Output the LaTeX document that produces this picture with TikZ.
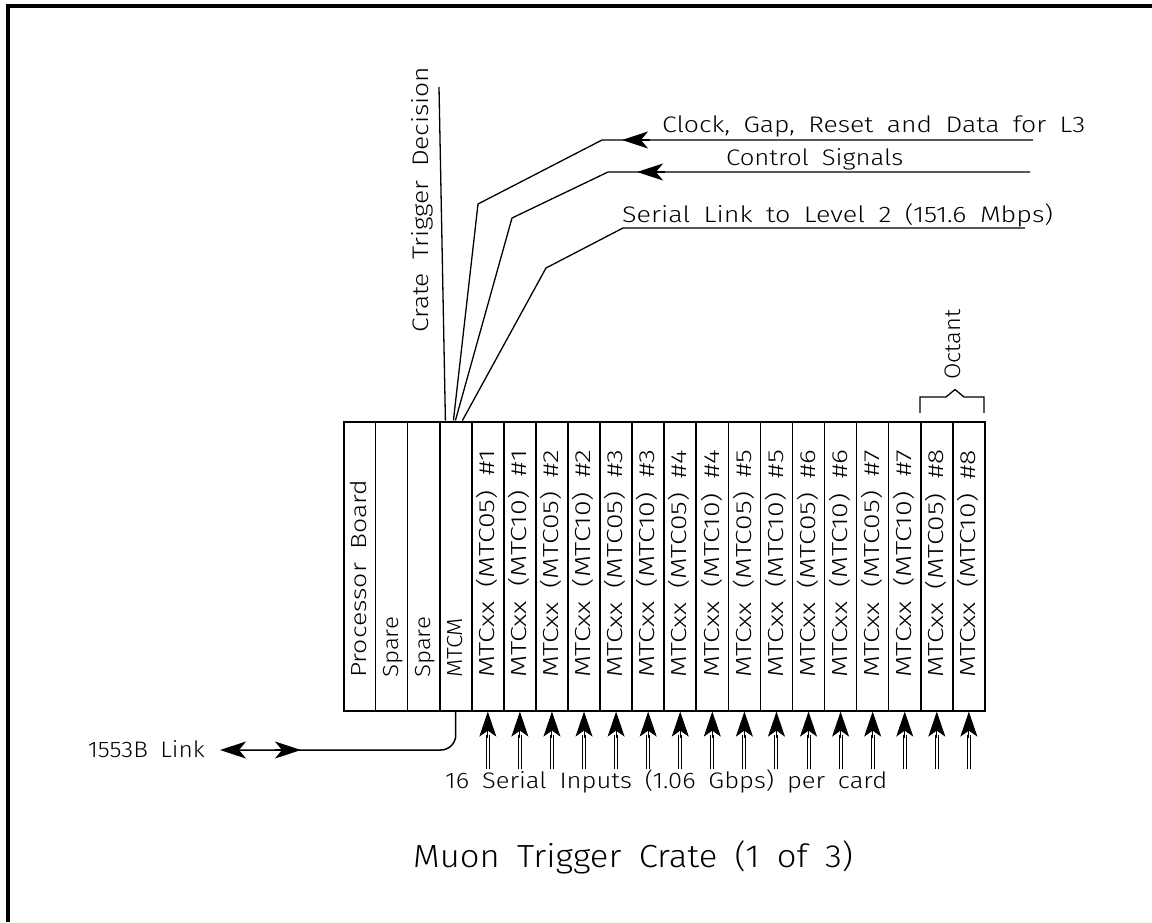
\documentclass[tikz,border=0pt]{standalone}
\usepackage{fontspec}
\setmainfont{Fira Sans Light}[WordSpace=1.8]
\usetikzlibrary{arrows.meta,calc}
\newlength\fitlen
\newcommand\fitw[2]{\settowidth{\fitlen}{#2}\pgfmathsetmacro\fitf{#1/\fitlen}\scalebox{\fitf}[1]{#2}}
\begin{document}
\begin{tikzpicture}[x=1pt,y=-1pt,
  wire/.style={line width=1.3pt},
  slotbox/.style={draw, line width=1.6pt, minimum width=32.07pt, minimum height=289.5pt, anchor=north west, inner sep=0pt},
  lbl/.style={font=\fontsize{22.5}{24}\selectfont, inner sep=0pt},
  biglbl/.style={font=\fontsize{32}{34}\selectfont, inner sep=0pt},
  slotlbl/.style={font=\fontsize{21.8}{23}\selectfont, rotate=90, anchor=base west, inner sep=0pt},
  tipL/.style={-{Stealth[length=26pt,width=17pt,inset=7pt]}},
  tipS/.style={-{Stealth[length=25pt,width=17pt,inset=6pt]}},
]
\useasboundingbox (0,0) rectangle (1152,922);
\draw[line width=4pt] (8,922) -- (8,6) -- (1152,6);

% slots
\foreach \i in {0,...,19}{
  \node (s\i) [slotbox] at ({342.7+\i*32.07},420.5) {};
}
\node (crate) [draw, line width=2pt, minimum width=641.4pt, minimum height=289.5pt, anchor=north west, inner sep=0pt] at (342.7,420.5) {};

% slot labels
\newcommand{\slotx}[1]{342.7+(#1+0.5)*32.07+7.5}
\node[slotlbl] (l0) at ({\slotx{0}},678) {\fitw{198}{Processor Board}};
\node[slotlbl] (l1) at ({\slotx{1}},678) {\fitw{61}{Spare}};
\node[slotlbl] (l2) at ({\slotx{2}},678) {\fitw{61}{Spare}};
\node[slotlbl] (l3) at ({\slotx{3}},678) {\fitw{60}{MTCM}};
\foreach \n in {1,...,8}{
  \pgfmathtruncatemacro{\a}{2*\n+2}
  \pgfmathtruncatemacro{\b}{2*\n+3}
  \node[slotlbl] (la\n) at ({\slotx{\a}},678) {\fitw{228}{MTCxx (MTC05) \#\n}};
  \node[slotlbl] (lb\n) at ({\slotx{\b}},678) {\fitw{228}{MTCxx (MTC10) \#\n}};
}

% crate trigger decision
\coordinate (ctdtop) at (439,87);
\draw[wire] ($(s3.north west)+(6.5,0)$) -- (ctdtop);
\node[lbl, rotate=90, anchor=base west] (ctd) at (428,333) {\fitw{266}{Crate Trigger Decision}};

% clock line
\coordinate (clkA) at (478,204);
\coordinate (clkB) at (602,140);
\coordinate (clkE) at (1033,140);
\draw[wire] ($(s3.north west)+(14.5,0)$) -- (clkA) -- (clkB) -- (clkE);
\draw[wire, tipL] (650,140) -- (622,140);
\node[lbl, anchor=base west] (clk) at (662,132) {\fitw{423}{Clock, Gap, Reset and Data for L3}};

% control line
\coordinate (ctlA) at (512,218);
\coordinate (ctlB) at (608,172);
\coordinate (ctlE) at (1030,172);
\draw[wire] ($(s3.north west)+(16.5,0)$) -- (ctlA) -- (ctlB) -- (ctlE);
\draw[wire, tipL] (665,172) -- (637,172);
\node[lbl, anchor=base west] (ctl) at (726,165) {\fitw{177}{Control Signals}};

% serial link
\coordinate (serA) at (546,268);
\coordinate (serB) at (623,228);
\coordinate (serE) at (1025,228);
\draw[wire] ($(s3.north west)+(23.5,0)$) -- (serA) -- (serB) -- (serE);
\node[lbl, anchor=base west] (ser) at (622,222) {\fitw{431}{Serial Link to Level 2 (151.6 Mbps)}};

% octant
\draw[wire] (s18.north west) ++(0,-7.5) -- ++(0,-16) -- (946,397) -- (955,389.5) -- (964,397) -- (984,397) -- ++(0,16);
\node[lbl, rotate=90, anchor=base west] (oct) at (960,380) {\fitw{70}{Octant}};

% inputs
\foreach \i in {4,...,19}{
  \coordinate (in\i) at ($(s\i.south)+(0,57)$);
  \draw[double, line width=1pt, double distance=2pt] (in\i) -- ($(s\i.south)+(0,23)$);
  \draw[line width=1pt, tipS] ($(s\i.south)+(0,26)$) -- (s\i.south);
}
\node[lbl, anchor=base west] (inp) at (445,788) {\fitw{442}{16 Serial Inputs (1.06 Gbps) per card}};

% 1553B link
\coordinate (lnkE) at (220,750);
\draw[line width=1.5pt, rounded corners=15pt, tipL] (s3.south) |- (lnkE);
\draw[line width=1.5pt, tipL] (275,750) -- (301,750);
\node[lbl, anchor=base east] (lnk) at (205,757) {\fitw{117}{1553B Link}};

\node[biglbl, anchor=base west] (title) at (413,867) {\fitw{440}{Muon Trigger Crate (1 of 3)}};
\end{tikzpicture}
\end{document}
